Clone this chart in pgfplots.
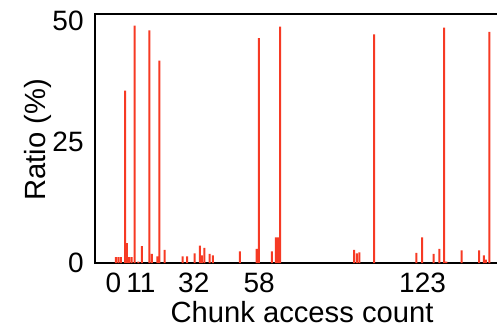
\documentclass[border=0pt]{standalone}
\usepackage{fontspec}
\setmainfont{Liberation Sans}
\usepackage{pgfplots}
\pgfplotsset{compat=1.18}
\definecolor{barred}{RGB}{246,58,36}
\begin{document}
\begin{tikzpicture}
\begin{axis}[
  at={(0,0)}, anchor=south west,
  scale only axis, width=205pt, height=124.5pt,
  xmin=-7.3, xmax=155.8, ymin=0, ymax=51.4,
  ybar, bar width=0.8, bar shift=0pt,
  xtick={0,11,32,58,123}, ytick={0,25,50},
  major tick length=0pt,
  axis line style={line width=1.1pt},
  tick label style={font=\fontsize{14}{16}\selectfont},
  label style={font=\fontsize{14.6}{17}\selectfont},
  /pgf/number format/assume math mode=true,
  xticklabel style={anchor=north, inner sep=0pt, yshift=-5pt},
  yticklabel style={anchor=east, inner sep=0pt, xshift=-5.5pt},
  xlabel={Chunk access count},
  xlabel style={at={(axis description cs:0.505,0)}, anchor=north, inner sep=0pt, yshift=-19pt},
  ylabel={Ratio (\%)},
  ylabel style={at={([xshift=-28.5pt]axis description cs:0,0.494)}, anchor=center, inner sep=0pt},
  clip=true,
]
\addplot[fill=barred, draw=none] coordinates {
(1.0,1.2) (2.0,1.2) (3.0,1.2) (4.65,35.6) (5.4,4.1) (6.3,1.2) (7.3,1.2)
(8.5,49.0) (10.0,0.3) (11.3,3.5) (14.3,48.0) (15.3,1.9) (17.5,1.35) (18.3,41.8)
(20.4,2.7) (27.6,1.35) (29.3,1.35) (32.3,2.0) (34.4,3.6) (35.2,1.55)
(36.2,3.1) (38.3,1.9) (39.6,1.55) (50.3,2.4) (57.0,2.9) (57.9,46.4)
(63.1,2.4) (64.7,5.3) (65.4,5.3) (66.3,48.8)
(95.8,2.7) (96.9,2.0) (97.9,2.2) (103.7,47.2)
(120.5,2.1) (122.8,5.3) (127.4,1.9) (129.7,2.9) (131.6,48.6) (132.5,0.3)
(138.5,2.6) (145.5,2.6) (147.4,1.55) (148.2,0.7) (149.6,47.7)
};
\end{axis}
\pgfresetboundingbox
\path (-47.5pt,-32pt) rectangle (201pt,131.5pt);
\end{tikzpicture}
\end{document}
